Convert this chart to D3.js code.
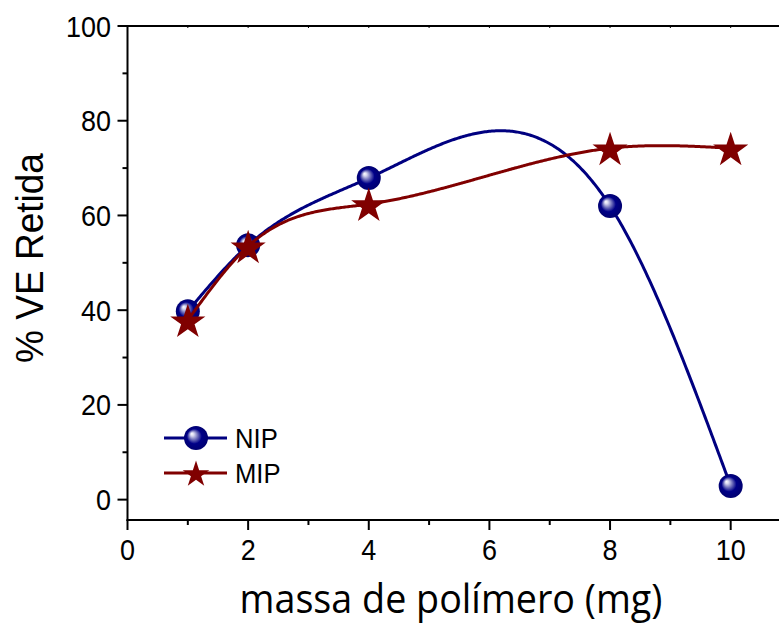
<!DOCTYPE html>
<html>
<head>
<meta charset="utf-8">
<script src="https://cdn.jsdelivr.net/npm/d3@7"></script>
<style>
  html, body { margin: 0; padding: 0; background: #fff; }
  svg { display: block; }
</style>
</head>
<body>
<div id="chart"></div>
<script>
// Polymer mass (mg) on x; % retained on y
const massa = [1, 2, 4, 8, 10];
const nipValues = [39.8, 53.7, 67.9, 62.0, 2.9];
const mipValues = [37.9, 53.5, 62.4, 74.2, 74.2];
const seriesNames = ["NIP", "MIP"];
const xTicks = [0, 2, 4, 6, 8, 10];
const yTicks = [0, 20, 40, 60, 80, 100];

const W = 779, H = 626;
const NAVY = "#000080", MAROON = "#800000";
const SANS = "'Liberation Sans', Arial, sans-serif";

const svg = d3.select("#chart").append("svg")
  .attr("width", W).attr("height", H);

const x = d3.scaleLinear().domain([0, 11]).range([127.5, 791]);
const y = d3.scaleLinear().domain([-4.3, 100]).range([520, 26]);

// Sphere-like shading for the NIP markers
const defs = svg.append("defs");
const grad = defs.append("radialGradient")
  .attr("id", "sphere").attr("cx", "50%").attr("cy", "50%").attr("r", "50%")
  .attr("fx", "32%").attr("fy", "32%");
grad.append("stop").attr("offset", "0%").attr("stop-color", "#ffffff");
grad.append("stop").attr("offset", "14%").attr("stop-color", "#d8d8f0");
grad.append("stop").attr("offset", "38%").attr("stop-color", "#6a6ab8");
grad.append("stop").attr("offset", "62%").attr("stop-color", "#000088");
grad.append("stop").attr("offset", "100%").attr("stop-color", "#000070");

// Natural cubic spline through (xs, ys), evaluated on a dense grid in data space
function naturalSpline(xs, ys, steps) {
  const n = xs.length;
  const h = d3.range(n - 1).map(i => xs[i + 1] - xs[i]);
  const M = new Array(n).fill(0);
  const m = n - 2;
  const a = [], b = [], c = [], r = [];
  for (let i = 1; i <= m; i++) {
    a.push(h[i - 1]);
    b.push(2 * (h[i - 1] + h[i]));
    c.push(h[i]);
    r.push(6 * ((ys[i + 1] - ys[i]) / h[i] - (ys[i] - ys[i - 1]) / h[i - 1]));
  }
  // Thomas algorithm
  for (let i = 1; i < m; i++) {
    const w = a[i] / b[i - 1];
    b[i] -= w * c[i - 1];
    r[i] -= w * r[i - 1];
  }
  const sol = new Array(m);
  sol[m - 1] = r[m - 1] / b[m - 1];
  for (let i = m - 2; i >= 0; i--) sol[i] = (r[i] - c[i] * sol[i + 1]) / b[i];
  for (let i = 0; i < m; i++) M[i + 1] = sol[i];

  const pts = [];
  for (let k = 0; k <= steps; k++) {
    const t = xs[0] + (xs[n - 1] - xs[0]) * k / steps;
    let i = 0;
    while (i < n - 2 && t > xs[i + 1]) i++;
    const hi = h[i], A = xs[i + 1] - t, B = t - xs[i];
    const v = M[i] * A * A * A / (6 * hi) + M[i + 1] * B * B * B / (6 * hi)
      + (ys[i] / hi - M[i] * hi / 6) * A + (ys[i + 1] / hi - M[i + 1] * hi / 6) * B;
    pts.push([t, v]);
  }
  return pts;
}

const line = d3.line().x(d => x(d[0])).y(d => y(d[1]));

// Axes frame
const axisColor = "#000";
const g = svg.append("g");

g.append("line").attr("x1", x(0) - 1).attr("x2", W).attr("y1", y(-4.3)).attr("y2", y(-4.3))
  .attr("stroke", axisColor).attr("stroke-width", 2);
g.append("line").attr("x1", x(0) - 1).attr("x2", W).attr("y1", y(100)).attr("y2", y(100))
  .attr("stroke", axisColor).attr("stroke-width", 2);
g.append("line").attr("x1", x(0)).attr("x2", x(0)).attr("y1", y(100) - 1).attr("y2", y(-4.3) + 1)
  .attr("stroke", axisColor).attr("stroke-width", 2);

// X ticks
const xMinor = d3.range(1, 11, 2);
g.selectAll(".xmaj").data(xTicks).join("line")
  .attr("x1", d => x(d)).attr("x2", d => x(d))
  .attr("y1", y(-4.3)).attr("y2", y(-4.3) + 10)
  .attr("stroke", axisColor).attr("stroke-width", 2);
g.selectAll(".xmin").data(xMinor).join("line")
  .attr("x1", d => x(d)).attr("x2", d => x(d))
  .attr("y1", y(-4.3)).attr("y2", y(-4.3) + 5)
  .attr("stroke", axisColor).attr("stroke-width", 2);
// Small inward ticks on the top axis
g.selectAll(".xtop").data(d3.range(1, 11)).join("line")
  .attr("x1", d => x(d)).attr("x2", d => x(d))
  .attr("y1", y(100)).attr("y2", y(100) + 2)
  .attr("stroke", axisColor).attr("stroke-width", 1);

g.selectAll(".xlab").data(xTicks).join("text")
  .attr("transform", d => `translate(${x(d)},560) scale(0.93,1)`)
  .attr("text-anchor", "middle")
  .attr("font-family", SANS)
  .attr("font-size", 29)
  .text(d => d);

// Y ticks
const yMinor = d3.range(10, 100, 20);
g.selectAll(".ymaj").data(yTicks).join("line")
  .attr("x1", x(0) - 10).attr("x2", x(0))
  .attr("y1", d => y(d)).attr("y2", d => y(d))
  .attr("stroke", axisColor).attr("stroke-width", 2);
g.selectAll(".ymin").data(yMinor).join("line")
  .attr("x1", x(0) - 5).attr("x2", x(0))
  .attr("y1", d => y(d)).attr("y2", d => y(d))
  .attr("stroke", axisColor).attr("stroke-width", 2);
g.selectAll(".ylab").data(yTicks).join("text")
  .attr("transform", d => `translate(111,${y(d) + 10.5}) scale(0.93,1)`)
  .attr("text-anchor", "end")
  .attr("font-family", SANS)
  .attr("font-size", 29)
  .text(d => d);

// Axis titles
svg.append("text")
  .attr("transform", "translate(43,258) rotate(-90) scale(0.95,1)")
  .attr("text-anchor", "middle")
  .attr("font-family", SANS)
  .attr("font-size", 39)
  .text("% VE Retida");

svg.append("text")
  .attr("transform", "translate(451,613) scale(0.92,1)")
  .attr("text-anchor", "middle")
  .attr("font-family", "'Open Sans', 'Noto Sans', sans-serif")
  .attr("font-size", 41)
  .text("massa de polímero (mg)");

// Series
const star = d3.symbol().type(d3.symbolStar);
const starSize = r => r * r / 0.8908130915292852;

function drawNIP(parent) {
  parent.append("path")
    .attr("d", line(naturalSpline(massa, nipValues, 400)))
    .attr("fill", "none").attr("stroke", NAVY).attr("stroke-width", 3);
  parent.selectAll(".nip").data(massa.map((m, i) => [m, nipValues[i]])).join("circle")
    .attr("cx", d => x(d[0])).attr("cy", d => y(d[1])).attr("r", 12)
    .attr("fill", "url(#sphere)");
}
function drawMIP(parent) {
  parent.append("path")
    .attr("d", line(naturalSpline(massa, mipValues, 400)))
    .attr("fill", "none").attr("stroke", MAROON).attr("stroke-width", 3);
  parent.selectAll(".mip").data(massa.map((m, i) => [m, mipValues[i]])).join("path")
    .attr("transform", d => `translate(${x(d[0])},${y(d[1]) + 2})`)
    .attr("d", star.size(starSize(18.5))())
    .attr("fill", MAROON);
}
drawNIP(svg.append("g"));
drawMIP(svg.append("g"));

// Legend
const leg = svg.append("g");
const legendRows = [
  { name: seriesNames[0], color: NAVY, y: 438 },
  { name: seriesNames[1], color: MAROON, y: 473 }
];
legendRows.forEach((row, i) => {
  leg.append("line").attr("x1", 164).attr("x2", 227).attr("y1", row.y).attr("y2", row.y)
    .attr("stroke", row.color).attr("stroke-width", 3);
  if (i === 0) {
    leg.append("circle").attr("cx", 196).attr("cy", row.y).attr("r", 12).attr("fill", "url(#sphere)");
  } else {
    leg.append("path").attr("transform", `translate(196,${row.y + 1.5})`)
      .attr("d", star.size(starSize(14))()).attr("fill", row.color);
  }
  leg.append("text").attr("transform", `translate(235,${row.y + 10}) scale(0.95,1)`)
    .attr("font-family", SANS)
    .attr("font-size", 27)
    .text(row.name);
});
</script>
</body>
</html>
